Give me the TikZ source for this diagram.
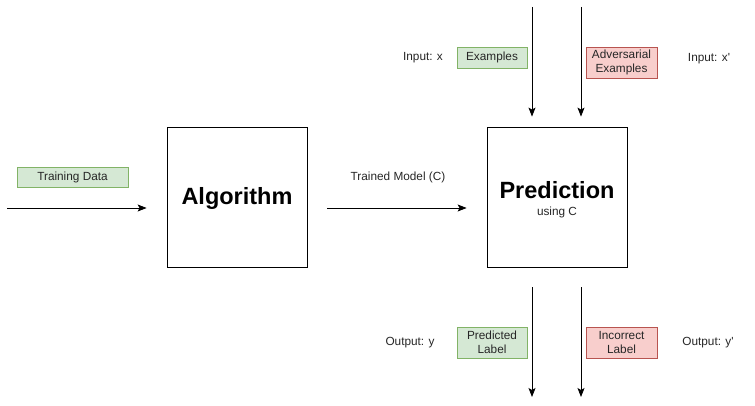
\documentclass[tikz,border=0pt]{standalone}
\usepackage{fontspec}
\setmainfont{Liberation Sans}
\usetikzlibrary{arrows.meta}
\definecolor{greenfill}{HTML}{D5E8D4}
\definecolor{greenline}{HTML}{82B366}
\definecolor{redfill}{HTML}{F8CECC}
\definecolor{redline}{HTML}{B85450}
\tikzset{
	lbl/.style={font=\fontsize{11.8}{14}\selectfont, text=black!85, align=center, inner sep=0pt},
	greenbox/.style={lbl, draw=greenline, fill=greenfill, line width=0.8pt, minimum width=70pt},
	redbox/.style={lbl, draw=redline, fill=redfill, line width=0.8pt, minimum width=71pt},
	bigbox/.style={draw, line width=0.8pt, minimum width=140pt, minimum height=140pt, inner sep=0pt},
	flow/.style={-{Stealth[length=9pt,width=7pt,inset=2pt]}, line width=0.8pt}
}
\begin{document}
\begin{tikzpicture}[x=1pt,y=-1pt]
	\useasboundingbox (0,0) rectangle (755,406);
	\node[bigbox] (algo) at (237,197) {};
	\node[font=\fontsize{23.5}{28}\bfseries\selectfont] (algotext) at (237,198) {Algorithm};
	\node[bigbox] (pred) at (557,197) {};
	\node[font=\fontsize{23.5}{28}\bfseries\selectfont] (predtext) at (557,190) {Prediction};
	\node[lbl] (using) at (557,212.5) {using C};
	\node[greenbox, minimum width=111pt, minimum height=20pt] (train) at (72.5,177) {Training Data};
	\node[lbl] (model) at (398,177) {Trained Model (C)};
	\node[greenbox, minimum height=21pt] (ex) at (492,57.5) {Examples};
	\node[redbox, minimum height=31pt] (adv) at (621.5,62.5) {Adversarial\\Examples};
	\node[lbl] (inx) at (423,58) {Input: x};
	\node[lbl] (inxp) at (709,59) {Input: x\textquotesingle};
	\node[greenbox, minimum height=31pt] (predlabel) at (492,342.5) {Predicted\\Label};
	\node[redbox, minimum height=31pt] (wronglabel) at (621.5,342.5) {Incorrect\\Label};
	\node[lbl] (outy) at (410,343) {Output: y};
	\node[lbl] (outyp) at (708,343) {Output: y\textquotesingle};
	\coordinate (datain) at (7,208);
	\coordinate (exin) at (532,7);
	\coordinate (advin) at (581,7);
	\coordinate (yout) at (532,397);
	\coordinate (ypout) at (581,397);
	\draw[flow] (datain) -- ([xshift=-20pt]algo.west |- datain);
	\draw[flow] ([xshift=20pt]algo.east |- datain) -- ([xshift=-20pt]pred.west |- datain);
	\draw[flow] (exin) -- ([yshift=10pt]pred.north -| exin);
	\draw[flow] (advin) -- ([yshift=10pt]pred.north -| advin);
	\draw[flow] ([yshift=-20pt]pred.south -| yout) -- (yout);
	\draw[flow] ([yshift=-20pt]pred.south -| ypout) -- (ypout);
\end{tikzpicture}
\end{document}
